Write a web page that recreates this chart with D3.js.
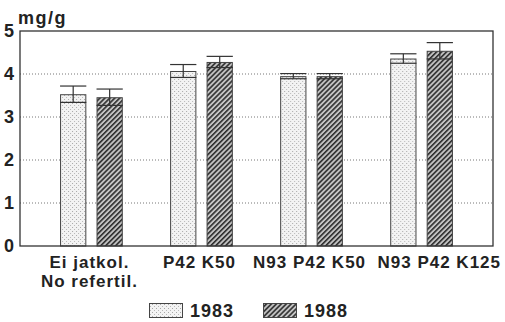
<!DOCTYPE html>
<html>
<head>
<meta charset="utf-8">
<script src="https://cdn.jsdelivr.net/npm/d3@7"></script>
<style>
  body { margin: 0; background: #fff; }
  text { font-family: "Liberation Sans", Arial, sans-serif; font-weight: bold; fill: #222; }
</style>
</head>
<body>
<div id="chart"></div>
<script type="text/javascript">
// data
var groups = ["Ei jatkol.|No refertil.", "P42 K50", "N93 P42 K50", "N93 P42 K125"];
var years = ["1983", "1988"];
var mean1983 = [3.53, 4.07, 3.95, 4.36];
var mean1988 = [3.46, 4.28, 3.95, 4.54];
var err1983 = [0.19, 0.15, 0.06, 0.11];
var err1988 = [0.19, 0.13, 0.06, 0.19];
var yTicks = [0, 1, 2, 3, 4, 5];

var W = 505, H = 322;
var margin = {top: 31, right: 12, bottom: 76, left: 20};
var width = W - margin.left - margin.right,
    height = H - margin.top - margin.bottom;

var svg = d3.select("#chart").append("svg")
    .attr("width", W)
    .attr("height", H);

// patterns
var defs = svg.append("defs");
var dots = defs.append("pattern")
    .attr("id", "dots")
    .attr("patternUnits", "userSpaceOnUse")
    .attr("width", 4).attr("height", 4);
dots.append("rect").attr("width", 4).attr("height", 4).attr("fill", "#f3f3f3");
dots.append("rect").attr("x", 0).attr("y", 0).attr("width", 1).attr("height", 1).attr("fill", "#a8a8a8");
dots.append("rect").attr("x", 2).attr("y", 2).attr("width", 1).attr("height", 1).attr("fill", "#b8b8b8");

var hatch = defs.append("pattern")
    .attr("id", "hatch")
    .attr("patternUnits", "userSpaceOnUse")
    .attr("width", 3.5).attr("height", 3.5)
    .attr("patternTransform", "rotate(45)");
hatch.append("rect").attr("width", 3.5).attr("height", 3.5).attr("fill", "#c4c4c4");
hatch.append("rect").attr("x", 0).attr("y", 0).attr("width", 1.6).attr("height", 3.5).attr("fill", "#2e2e2e");

var fills = {"1983": "url(#dots)", "1988": "url(#hatch)"};

var g = svg.append("g")
    .attr("transform", "translate(" + margin.left + "," + margin.top + ")");

// scales
var x0 = d3.scaleBand().domain(groups).range([0, width])
    .paddingInner(0.43).paddingOuter(0.364);
var x1 = d3.scaleBand().domain(years).range([0, x0.bandwidth()])
    .paddingInner(0.28);
var y = d3.scaleLinear().domain([0, 5]).range([height, 0]);

// dotted grid lines
g.selectAll(".grid").data([1, 2, 3, 4]).enter().append("line")
    .attr("x1", 0).attr("x2", width)
    .attr("y1", function(d) { return y(d); })
    .attr("y2", function(d) { return y(d); })
    .attr("stroke", "#777").attr("stroke-width", 1)
    .attr("stroke-dasharray", "1,2");

// bars
var rows = [];
groups.forEach(function(gr, i) {
  rows.push({group: gr, year: "1983", v: mean1983[i], e: err1983[i]});
  rows.push({group: gr, year: "1988", v: mean1988[i], e: err1988[i]});
});

var bar = g.selectAll(".bar").data(rows).enter().append("g")
    .attr("transform", function(d) { return "translate(" + (x0(d.group) + x1(d.year)) + ",0)"; });

bar.append("rect")
    .attr("x", 0.5)
    .attr("y", function(d) { return y(d.v) + 0.5; })
    .attr("width", x1.bandwidth() - 1)
    .attr("height", function(d) { return height - y(d.v) - 0.5; })
    .attr("fill", function(d) { return fills[d.year]; })
    .attr("stroke", "#444").attr("stroke-width", 1);

// error bars: whisker, top cap, lower line
bar.append("line")
    .attr("x1", x1.bandwidth() / 2).attr("x2", x1.bandwidth() / 2)
    .attr("y1", function(d) { return y(d.v + d.e); })
    .attr("y2", function(d) { return y(d.v - d.e); })
    .attr("stroke", "#333").attr("stroke-width", 1.2);
bar.append("line")
    .attr("x1", 0).attr("x2", x1.bandwidth())
    .attr("y1", function(d) { return y(d.v + d.e); })
    .attr("y2", function(d) { return y(d.v + d.e); })
    .attr("stroke", "#333").attr("stroke-width", 1.2);
bar.append("line")
    .attr("x1", 0).attr("x2", x1.bandwidth())
    .attr("y1", function(d) { return y(d.v - d.e); })
    .attr("y2", function(d) { return y(d.v - d.e); })
    .attr("stroke", "#333").attr("stroke-width", 1.2);

// frame
g.append("rect")
    .attr("x", 0).attr("y", 0)
    .attr("width", width).attr("height", height)
    .attr("fill", "none").attr("stroke", "#333").attr("stroke-width", 1.3);

// y axis labels
var yAxis = g.append("g")
    .call(d3.axisLeft(y).tickValues(yTicks).tickFormat(d3.format("d")).tickSize(0).tickPadding(6));
yAxis.select(".domain").remove();
yAxis.selectAll("text")
    .attr("font-size", 18).attr("font-family", null).attr("fill", "#222");

svg.append("text")
    .attr("x", 18).attr("y", 24)
    .attr("font-size", 18).attr("letter-spacing", 1.5)
    .text("mg/g");

// x labels, centred under groups; the last one is kept inside the picture
groups.forEach(function(gr, i) {
  var lines = gr.split("|");
  var last = i === groups.length - 1;
  var cx = last ? W - 4 : margin.left + x0(gr) + x0.bandwidth() / 2 - 2;
  var t = svg.append("text")
      .attr("x", cx).attr("y", 268)
      .attr("font-size", 17).attr("letter-spacing", 1)
      .attr("text-anchor", last ? "end" : "middle");
  lines.forEach(function(l, k) {
    t.append("tspan").attr("x", cx).attr("dy", k === 0 ? 0 : 19).text(l);
  });
});

// legend
var legendX = [149, 263];
years.forEach(function(yr, i) {
  svg.append("rect")
      .attr("x", legendX[i] + 0.5).attr("y", 303.5)
      .attr("width", 33).attr("height", 14)
      .attr("fill", fills[yr]).attr("stroke", "#444");
  svg.append("text")
      .attr("x", legendX[i] + 41).attr("y", 317)
      .attr("font-size", 18).attr("letter-spacing", 1)
      .text(yr);
});
</script>
</body>
</html>
